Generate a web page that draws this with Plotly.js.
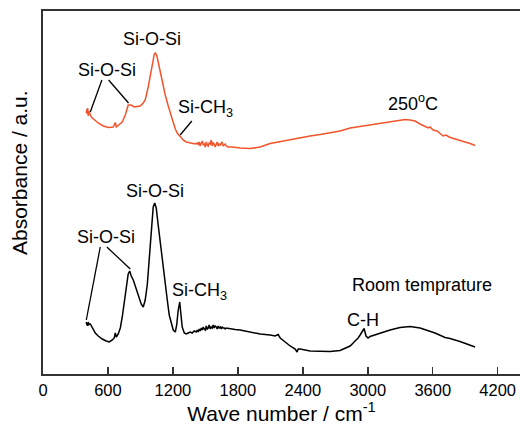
<!DOCTYPE html>
<html>
<head>
<meta charset="utf-8">
<script src="https://cdn.plot.ly/plotly-3.0.1.min.js"></script>
<style>html,body{margin:0;padding:0;background:#fff;}#chart{width:520px;height:433px;}</style>
</head>
<body>
<div id="chart"></div>
<script>
// Wavenumber (cm^-1) and absorbance (a.u.)
const hotWave = [400,405,409,413,418,423,427,446,483,510,557,603,649,668,677,714,732,760,787,815,843,870,898,926,944,972,991,1009,1028,1037,1050,1064,1083,1101,1129,1157,1185,1203,1222,1240,1258,1268,1295,1323,1360,1406,1425,1434,1443,1452,1462,1471,1480,1489,1499,1508,1517,1526,1535,1545,1554,1563,1572,1581,1590,1600,1609,1618,1627,1637,1646,1655,1664,1674,1683,1692,1711,1748,1821,1914,2006,2098,2144,2191,2283,2375,2467,2560,2652,2744,2837,2929,3021,3114,3206,3298,3345,3391,3437,3483,3529,3557,3575,3603,3640,3668,3695,3723,3751,3778,3815,3852,3898,3945,3991];
const hotAbs = [2.61,2.65,2.60,2.66,2.58,2.63,2.62,2.57,2.53,2.51,2.48,2.465,2.47,2.515,2.47,2.50,2.52,2.59,2.69,2.69,2.67,2.675,2.68,2.71,2.74,2.87,2.99,3.10,3.20,3.21,3.19,3.12,3.02,2.92,2.79,2.68,2.57,2.51,2.45,2.41,2.39,2.38,2.34,2.32,2.31,2.30,2.31,2.29,2.32,2.28,2.31,2.33,2.29,2.30,2.27,2.32,2.29,2.28,2.31,2.30,2.34,2.28,2.31,2.30,2.27,2.29,2.32,2.28,2.30,2.29,2.31,2.32,2.28,2.29,2.30,2.28,2.27,2.27,2.26,2.255,2.27,2.305,2.315,2.325,2.34,2.36,2.38,2.395,2.415,2.43,2.46,2.475,2.495,2.51,2.525,2.54,2.545,2.54,2.53,2.50,2.48,2.46,2.47,2.44,2.43,2.40,2.38,2.39,2.37,2.36,2.35,2.34,2.32,2.305,2.285];

const rtWave = [400,405,409,413,418,423,427,437,455,483,510,547,584,612,640,658,668,677,695,714,732,750,769,787,801,815,834,852,870,889,907,926,944,963,982,1000,1018,1032,1046,1064,1083,1101,1120,1148,1166,1185,1203,1222,1235,1249,1263,1272,1286,1305,1323,1341,1360,1378,1397,1415,1425,1434,1443,1452,1462,1471,1480,1489,1499,1508,1517,1526,1535,1545,1554,1563,1572,1581,1590,1600,1609,1618,1627,1637,1646,1655,1664,1674,1683,1692,1729,1775,1821,1914,2006,2098,2144,2172,2191,2237,2283,2329,2347,2357,2375,2467,2560,2652,2744,2790,2837,2883,2911,2929,2947,2966,2984,3003,3021,3114,3206,3298,3391,3483,3575,3621,3714,3760,3852,3945,3991];
const rtAbs = [0.52,0.49,0.51,0.48,0.52,0.49,0.50,0.50,0.47,0.41,0.38,0.35,0.33,0.32,0.34,0.36,0.41,0.37,0.40,0.46,0.57,0.71,0.89,1.00,1.03,0.98,0.94,0.88,0.83,0.75,0.70,0.67,0.74,0.89,1.14,1.46,1.67,1.71,1.66,1.49,1.31,1.12,0.94,0.74,0.59,0.50,0.44,0.42,0.49,0.64,0.72,0.62,0.47,0.41,0.40,0.41,0.42,0.41,0.43,0.42,0.44,0.42,0.45,0.43,0.46,0.44,0.47,0.45,0.44,0.48,0.45,0.46,0.49,0.45,0.47,0.46,0.49,0.46,0.48,0.47,0.45,0.48,0.46,0.47,0.45,0.47,0.46,0.46,0.45,0.46,0.45,0.445,0.44,0.42,0.40,0.39,0.38,0.395,0.36,0.32,0.28,0.25,0.22,0.25,0.25,0.23,0.225,0.225,0.235,0.255,0.28,0.33,0.36,0.39,0.42,0.455,0.38,0.36,0.375,0.41,0.44,0.465,0.475,0.46,0.43,0.41,0.365,0.355,0.325,0.29,0.27];

const xTicks = [0,600,1200,1800,2400,3000,3600,4200];

// Band labels: [text, wavenumber, absorbance]
const labelText = ['Si-O-Si','Si-O-Si','Si-CH<sub>3</sub>','250<sup>o</sup>C','Si-O-Si','Si-O-Si','Si-CH<sub>3</sub>','C-H','Room temprature'];
const labelWave = [1009,593,1500,3418,1037,584,1449,2959,3498];
const labelAbs = [3.35,3.04,2.66,2.72,1.83,1.37,0.83,0.54,0.89];

// Leader lines: from (wave0,abs0) to (wave1,abs1)
const leadW0 = [544,606,1375,529,590];
const leadA0 = [2.94,2.94,2.53,1.27,1.27];
const leadW1 = [437,790,1267,400,806];
const leadA1 = [2.62,2.71,2.39,0.54,1.05];

const FONT = 'Liberation Sans, Arial, Helvetica, sans-serif';

const traces = [
  {x: hotWave, y: hotAbs, mode: 'lines', line: {color: '#f2552c', width: 1.5}, hoverinfo: 'skip'},
  {x: rtWave, y: rtAbs, mode: 'lines', line: {color: '#000000', width: 1.5}, hoverinfo: 'skip'}
];

const annotations = labelText.map((t, i) => ({
  x: labelWave[i], y: labelAbs[i], xref: 'x', yref: 'y', text: t, showarrow: false,
  font: {family: FONT, size: 18, color: '#000'}, xanchor: 'center', yanchor: 'middle'
}));
annotations.push({
  x: -0.048, y: 0.554, xref: 'paper', yref: 'paper', text: 'Absorbance / a.u.',
  textangle: -90, showarrow: false, xanchor: 'center', yanchor: 'middle',
  font: {family: FONT, size: 21, color: '#000'}
});

const shapes = leadW0.map((w, i) => ({
  type: 'line', xref: 'x', yref: 'y', x0: w, y0: leadA0[i], x1: leadW1[i], y1: leadA1[i],
  line: {color: '#000', width: 1.3}
}));

const layout = {
  width: 520, height: 433,
  margin: {l: 43, r: 0, t: 11, b: 59},
  paper_bgcolor: '#fff', plot_bgcolor: '#fff',
  showlegend: false,
  font: {family: FONT, color: '#000'},
  xaxis: {
    range: [0, 4406], tickvals: xTicks, ticktext: xTicks.map(String),
    ticks: 'inside', ticklen: 7, tickwidth: 1.5, tickcolor: '#333',
    showline: true, linecolor: '#333', linewidth: 2, mirror: true,
    showgrid: false, zeroline: false,
    tickfont: {family: FONT, size: 16.5, color: '#000'},
    title: {text: 'Wave number / cm<sup>-1</sup>', font: {family: FONT, size: 21, color: '#000'}, standoff: 8}
  },
  yaxis: {
    range: [0, 3.63], showticklabels: false, ticks: '',
    showline: true, linecolor: '#333', linewidth: 2,
    showgrid: false, zeroline: false
  },
  annotations: annotations,
  shapes: shapes
};

Plotly.newPlot('chart', traces, layout, {displayModeBar: false, staticPlot: true});
</script>
</body>
</html>
